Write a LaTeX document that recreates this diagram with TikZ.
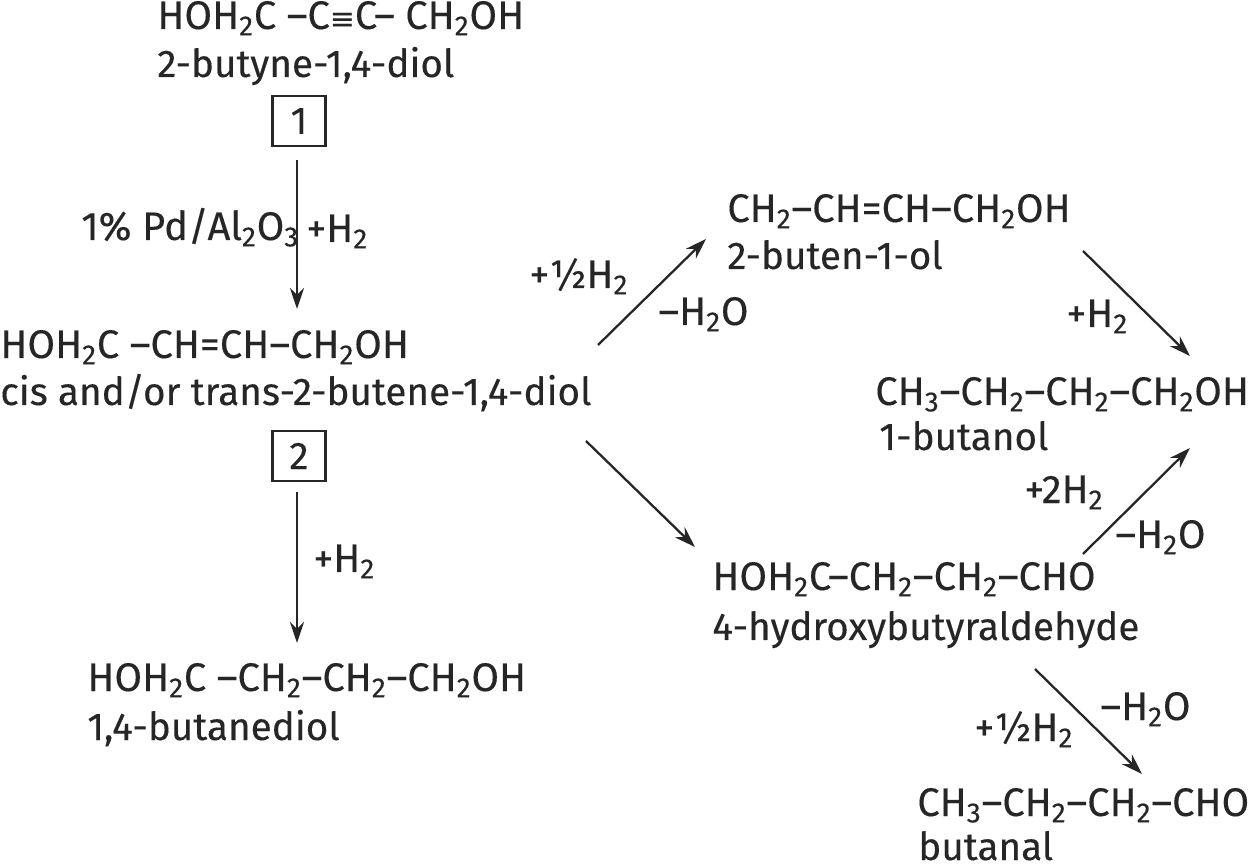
\documentclass[tikz,border=0pt]{standalone}
\usepackage{fontspec}
\usetikzlibrary{arrows.meta}
\setmainfont[FakeBold=0.25]{Fira Sans}
\newfontfamily\bondfont[FakeBold=0.25]{DejaVu Sans}
\newcommand{\sub}[1]{\textsubscript{#1}}
\begin{document}
\begin{tikzpicture}[x=0.02cm,y=-0.02cm]
\tikzset{
	chem/.style={anchor=base west, inner sep=0pt, text=black!85, font=\fontsize{22.7}{27}\selectfont},
	chemname/.style={chem, font=\fontsize{22}{26}\selectfont},
	numbox/.style={draw=black!85, line width=1.4pt, minimum width=1.06cm, minimum height=1cm, inner sep=0pt, text=black!85, font=\fontsize{22}{26}\selectfont},
	rarrow/.style={-{Stealth[length=12pt,width=8pt]}, line width=1.3pt, black!85}
}
\useasboundingbox (0,0) rectangle (1249,868);
% left column
\node[chem] (DIOLF) at (157,29) {HOH\sub{2}C --C{\bondfont\fontsize{17}{20}\selectfont ≡}C-- CH\sub{2}OH};
\node[chemname] (DIOLN) at (157,77) {2-butyne-1,4-diol};
\node[numbox] (BOXA) at (299,121) {1};
\node[chem] (CATL) at (81,240) {1\% Pd/Al\sub{2}O\sub{3}};
\node[chem] (HTWOA) at (306,242) {+H\sub{2}};
\node[chem] (BUTEF) at (0,358) {HOH\sub{2}C --CH=CH--CH\sub{2}OH};
\node[chemname] (BUTEN) at (0,405) {cis and/or trans-2-butene-1,4-diol};
\node[numbox] (BOXB) at (299,456) {2};
\node[chem] (HTWOB) at (313,572) {+H\sub{2}};
\node[chem] (BDOF) at (87,691) {HOH\sub{2}C --CH\sub{2}--CH\sub{2}--CH\sub{2}OH};
\node[chemname] (BDON) at (87,740) {1,4-butanediol};
% right column
\node[chem] (BUTOLF) at (727,222) {CH\sub{2}--CH=CH--CH\sub{2}OH};
\node[chemname] (BUTOLN) at (727,269) {2-buten-1-ol};
\node[chem] (HALFA) at (529,288) {+½H\sub{2}};
\node[chem] (WATA) at (658,325) {--H\sub{2}O};
\node[chem] (HTWOC) at (1066,327) {+H\sub{2}};
\node[chem] (BUOHF) at (875,405) {CH\sub{3}--CH\sub{2}--CH\sub{2}--CH\sub{2}OH};
\node[chemname] (BUOHN) at (879,450) {1-butanol};
\node[chem] (TWOH) at (1024,503) {+2H\sub{2}};
\node[chem] (WATB) at (1115,548) {--H\sub{2}O};
\node[chem] (HBAF) at (712,590) {HOH\sub{2}C--CH\sub{2}--CH\sub{2}--CHO};
\node[chemname] (HBAN) at (712,640) {4-hydroxybutyraldehyde};
\node[chem] (HALFB) at (974,741) {+½H\sub{2}};
\node[chem] (WATC) at (1100,720) {--H\sub{2}O};
\node[chem] (BUTAF) at (917,816) {CH\sub{3}--CH\sub{2}--CH\sub{2}--CHO};
\node[chemname] (BUTAN) at (918,860) {butanal};
% arrow ends
\coordinate (AS) at (297,160);
\coordinate (AE) at (297,309);
\coordinate (BS) at (297,492);
\coordinate (BE) at (297,643);
\coordinate (CS) at (598,345);
\coordinate (CE) at (706,239);
\coordinate (DS) at (586,441);
\coordinate (DE) at (695,547);
\coordinate (ES) at (1083,251);
\coordinate (EE) at (1190,356);
\coordinate (FS) at (1083,554);
\coordinate (FE) at (1190,448);
\coordinate (GS) at (1035,669);
\coordinate (GE) at (1142,774);
\draw[rarrow] (AS) -- (AE);
\draw[rarrow] (BS) -- (BE);
\draw[rarrow] (CS) -- (CE);
\draw[rarrow] (DS) -- (DE);
\draw[rarrow] (ES) -- (EE);
\draw[rarrow] (FS) -- (FE);
\draw[rarrow] (GS) -- (GE);
\end{tikzpicture}
\end{document}
